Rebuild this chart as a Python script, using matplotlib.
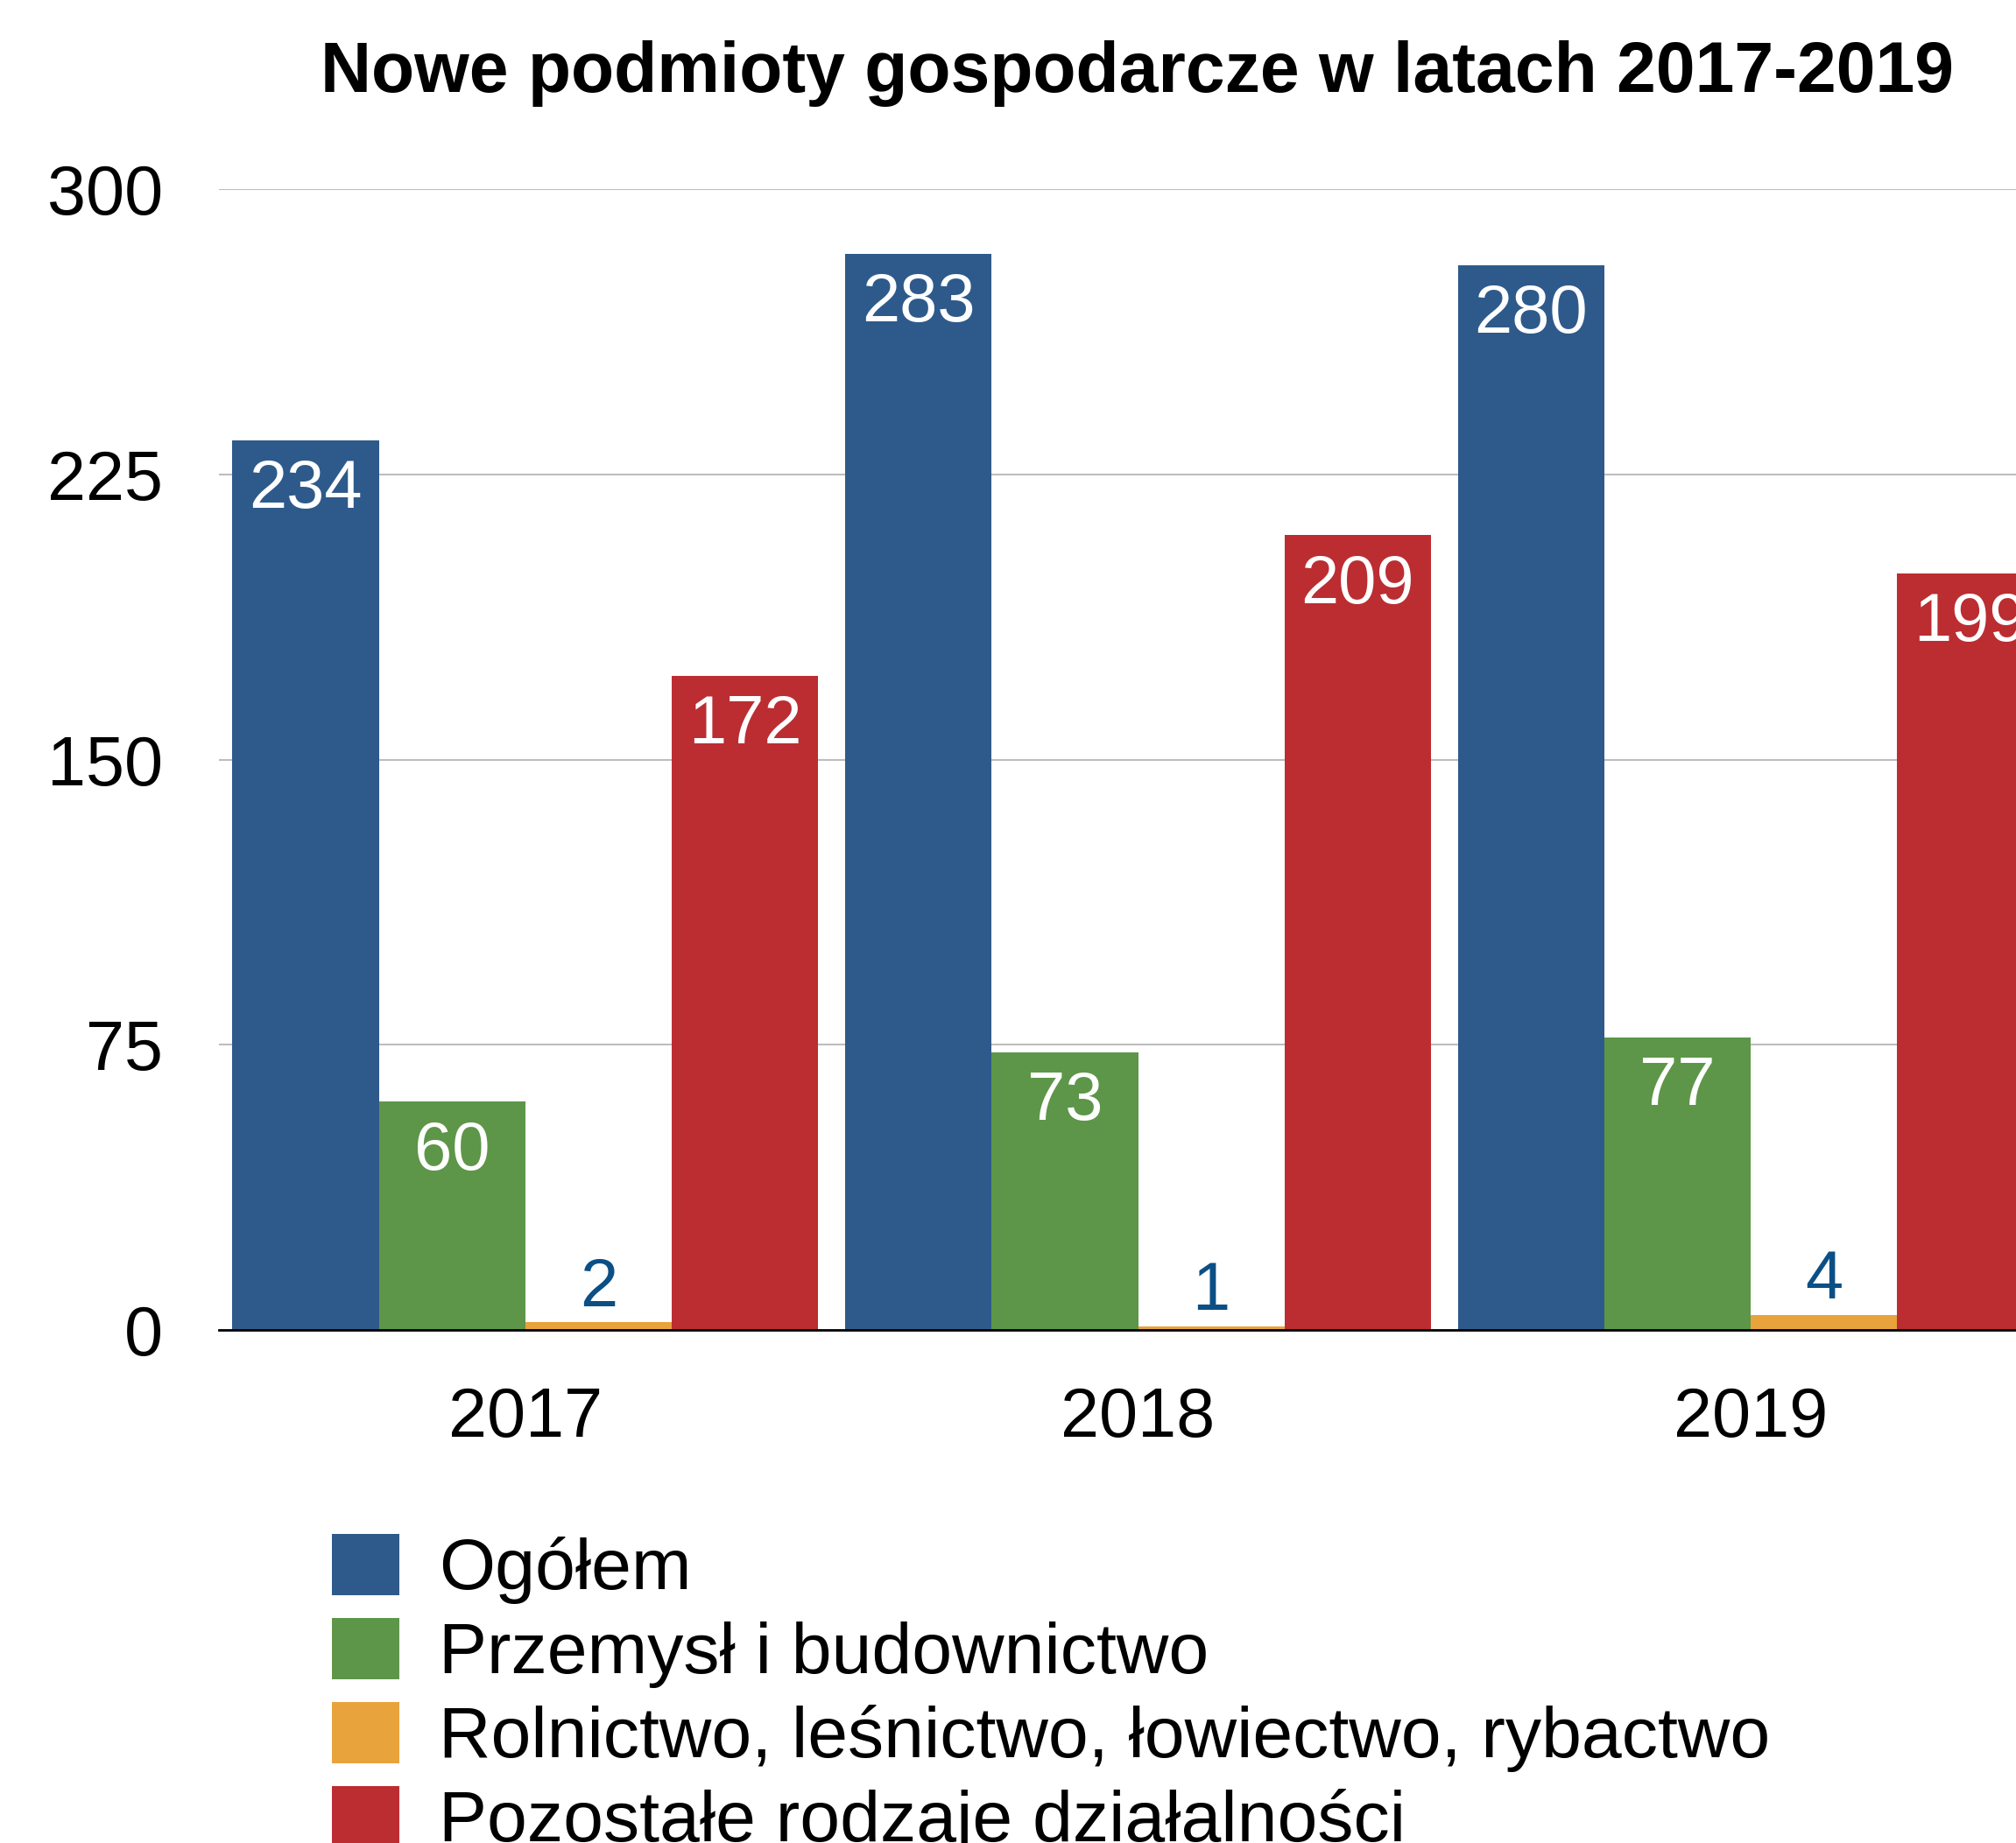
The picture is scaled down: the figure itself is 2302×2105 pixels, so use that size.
import matplotlib
matplotlib.use('Agg')
import matplotlib.pyplot as plt
import numpy as np

### data
years = ['2017', '2018', '2019']
series_names = ['Ogółem',
                'Przemysł i budownictwo',
                'Rolnictwo, leśnictwo, łowiectwo, rybactwo',
                'Pozostałe rodzaje działalności']
ogolem = [234, 283, 280]
przemysl = [60, 73, 77]
rolnictwo = [2, 1, 4]
pozostale = [172, 209, 199]
yticks = [0, 75, 150, 225, 300]

colors = ['#2e5a8b', '#5d9648', '#e8a33d', '#bb2d31']
label_colors = ['white', 'white', '#0b4f85', 'white']

plt.rcParams['font.family'] = ['Liberation Sans', 'DejaVu Sans']

W, H = 2302, 2105
fig = plt.figure(figsize=(W / 100, H / 100), dpi=100)
# axes runs past the right edge of the picture, like the original
ax = fig.add_axes([250 / W, 1 - 1519 / H, (2349 - 250) / W, (1519 - 216) / H])

x = np.arange(len(years))
bw = 0.239
values = [ogolem, przemysl, rolnictwo, pozostale]
for i, (vals, name) in enumerate(zip(values, series_names)):
    pos = x + (i - 1.5) * bw
    bars = ax.bar(pos, vals, bw, color=colors[i], label=name, zorder=2)
    for b, v in zip(bars, vals):
        cx = b.get_x() + b.get_width() / 2
        if label_colors[i] == 'white':
            ax.annotate(str(v), (cx, v), xytext=(0, -41), textcoords='offset points',
                        ha='center', va='center', color='white', fontsize=56)
        else:
            ax.annotate(str(v), (cx, v), xytext=(0, 28), textcoords='offset points',
                        ha='center', va='center', color=label_colors[i], fontsize=56)

ax.set_xlim(-0.5, 2.5)
ax.set_ylim(0, 300)
ax.set_yticks(yticks)
ax.set_yticklabels([str(t) for t in yticks])
ax.set_xticks(x)
ax.set_xticklabels(years)
ax.tick_params(axis='both', length=0, labelsize=57)
ax.tick_params(axis='y', pad=46)
ax.tick_params(axis='x', pad=46)
ax.yaxis.grid(True, color='#bdbdbd', linewidth=1.5, zorder=0)
ax.set_axisbelow(True)
for s in ['left', 'right', 'top']:
    ax.spines[s].set_visible(False)
ax.spines['bottom'].set_color('black')
ax.spines['bottom'].set_linewidth(2)
ax.spines['bottom'].set_zorder(3)

fig.text(1299 / W, 1 - 84 / H, 'Nowe podmioty gospodarcze w latach 2017-2019',
         ha='center', va='center', fontsize=58, fontweight='bold')

fig.legend(loc='upper left', bbox_to_anchor=(379 / W, 1 - 1752 / H),
           frameon=False, fontsize=59.3, handlelength=0.93, handleheight=0.93,
           handletextpad=0.55, labelspacing=0.19, borderaxespad=0, borderpad=0)

plt.savefig('out.png', dpi=100)
